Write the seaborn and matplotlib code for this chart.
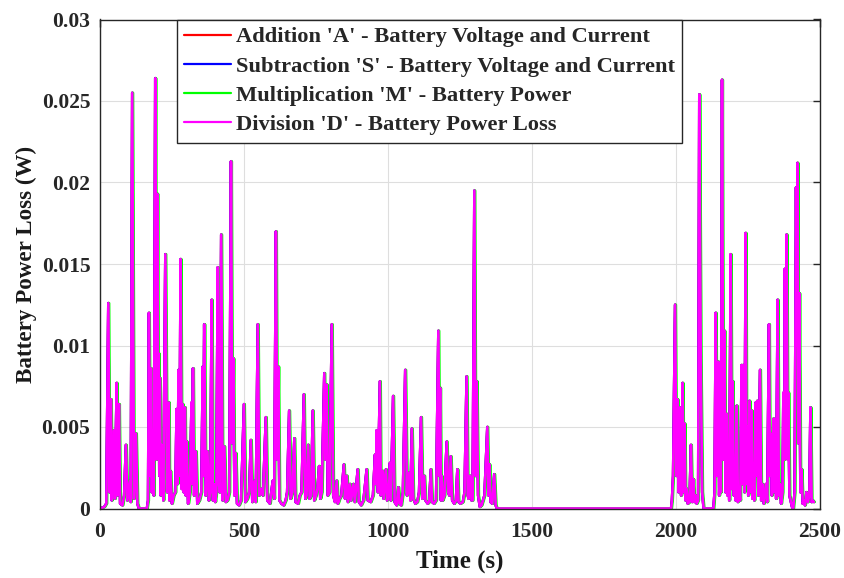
import matplotlib
matplotlib.use("Agg")
import matplotlib.pyplot as plt
import seaborn as sns
import pandas as pd

# ---- data (time in s, battery power loss in W) ----
seg1_time = [0, 15, 22, 29, 33, 38, 41, 44, 46, 49, 52, 58, 61, 66, 70, 78, 84, 90, 95, 104,
             107, 112, 118, 125, 130, 135, 163, 167, 170, 174, 177, 180, 183, 187, 192, 196,
             199, 202, 204, 206, 208, 211, 215, 220, 227, 233, 239, 241, 244, 250, 256, 262,
             266, 269, 273, 276, 280, 284, 287, 291, 295, 298, 301, 306, 312, 318, 320, 323,
             327, 333, 338, 345, 352, 357, 359, 362, 367, 373, 378, 383, 388, 392, 396, 400,
             404, 409, 413, 416, 421, 426, 432, 437, 443, 449, 455, 459, 463, 467, 471, 476,
             483, 490, 500, 505, 512, 518, 524, 529, 537, 541, 548, 553, 560, 566, 576, 581,
             590, 600, 605, 611, 615, 619, 623, 630, 638, 645, 650, 657, 662, 668, 675, 679,
             688, 694, 700, 708, 713, 717, 723, 728, 733, 739, 744, 750, 755, 761, 765, 770,
             779, 783, 787, 791, 797, 805, 810, 816, 822, 826, 832, 838, 847, 851, 857, 861,
             868, 872, 880, 885, 895, 899, 907, 915, 926, 930, 940, 948, 955, 958, 961, 965,
             972, 975, 982, 985, 993, 997, 1003, 1007, 1010, 1018, 1023, 1030, 1036, 1040,
             1046, 1052, 1060, 1066, 1074, 1078, 1083, 1088, 1095, 1102, 1108, 1115, 1120,
             1126, 1130, 1138, 1143, 1149, 1153, 1160, 1167, 1175, 1178, 1181, 1184, 1186,
             1190, 1196, 1204, 1209, 1213, 1218, 1223, 1230, 1236, 1241, 1245, 1252, 1260,
             1266, 1273, 1277, 1280, 1285, 1290, 1294, 1300, 1304, 1308, 1313, 1319, 1325,
             1335, 1345, 1349, 1352, 1356, 1362, 1369, 1374, 1378]
seg1_loss = [0, 0.0001, 0.0003, 0.0126, 0.0010, 0.0067, 0.0005, 0.0044, 0.0010, 0.0048, 0.0006,
             0.0077, 0.0008, 0.0064, 0.0003, 0.0002, 0.0008, 0.0039, 0.0005, 0.0017, 0.0004,
             0.0255, 0.0006, 0.0046, 0.0003, 0.0, 0.0, 0.0005, 0.0120, 0.0020, 0.0086, 0.0010,
             0.0048, 0.0008, 0.0264, 0.0030, 0.0193, 0.0040, 0.0095, 0.0020, 0.0080, 0.0008,
             0.0039, 0.0005, 0.0156, 0.0010, 0.0065, 0.0005, 0.0023, 0.0003, 0.0008, 0.0010,
             0.0061, 0.0015, 0.0085, 0.0020, 0.0153, 0.0012, 0.0064, 0.0010, 0.0062, 0.0008,
             0.0041, 0.0003, 0.0010, 0.0065, 0.0015, 0.0086, 0.0008, 0.0035, 0.0003, 0.0005,
             0.0010, 0.0087, 0.0020, 0.0113, 0.0008, 0.0035, 0.0005, 0.0010, 0.0128, 0.0005,
             0.0015, 0.0004, 0.0010, 0.0148, 0.0015, 0.0010, 0.0168, 0.0005, 0.0038, 0.0004,
             0.0005, 0.0010, 0.0213, 0.0040, 0.0092, 0.0008, 0.0034, 0.0003, 0.0002, 0.0005,
             0.0064, 0.0004, 0.0006, 0.0010, 0.0042, 0.0004, 0.0017, 0.0004, 0.0113, 0.0008,
             0.0012, 0.0008, 0.0056, 0.0005, 0.0003, 0.0017, 0.0006, 0.0170, 0.0030, 0.0087,
             0.0005, 0.0003, 0.0002, 0.0005, 0.0010, 0.0060, 0.0006, 0.0010, 0.0043, 0.0004,
             0.0003, 0.0008, 0.0010, 0.0070, 0.0006, 0.0008, 0.0039, 0.0006, 0.0008, 0.0060,
             0.0005, 0.0008, 0.0012, 0.0026, 0.0006, 0.0010, 0.0083, 0.0030, 0.0076, 0.0008,
             0.0010, 0.0113, 0.0008, 0.0004, 0.0017, 0.0003, 0.0006, 0.0008, 0.0027, 0.0006,
             0.0020, 0.0004, 0.0015, 0.0005, 0.0015, 0.0004, 0.0024, 0.0004, 0.0002, 0.0005,
             0.0024, 0.0005, 0.0004, 0.0008, 0.0033, 0.0015, 0.0048, 0.0010, 0.0078, 0.0008,
             0.0023, 0.0006, 0.0024, 0.0005, 0.0010, 0.0028, 0.0005, 0.0069, 0.0004, 0.0002,
             0.0013, 0.0003, 0.0002, 0.0010, 0.0085, 0.0008, 0.0022, 0.0005, 0.0049, 0.0006,
             0.0003, 0.0004, 0.0010, 0.0056, 0.0006, 0.0020, 0.0005, 0.0003, 0.0004, 0.0024,
             0.0004, 0.0003, 0.0005, 0.0109, 0.0020, 0.0074, 0.0005, 0.0020, 0.0005, 0.0008,
             0.0041, 0.0010, 0.0008, 0.0032, 0.0005, 0.0003, 0.0005, 0.0024, 0.0004, 0.0003,
             0.0004, 0.0010, 0.0081, 0.0008, 0.0006, 0.0020, 0.0005, 0.0005, 0.0195, 0.0020,
             0.0078, 0.0008, 0.0001, 0.0002, 0.0008, 0.0050, 0.0008, 0.0027, 0.0004, 0.0003,
             0.0021, 0.0002, 0.0]

seg2_time = [1983]          # idle stretch (loss stays at zero)
seg2_loss = [0.0]

seg3_time = [1986, 1990, 1997, 2001, 2005, 2009, 2014, 2018, 2023, 2027, 2030, 2033, 2037,
             2041, 2047, 2052, 2056, 2060, 2064, 2068, 2072, 2077, 2081, 2086, 2091, 2096,
             2130, 2134, 2138, 2142, 2147, 2150, 2152, 2156, 2160, 2164, 2168, 2172, 2176,
             2179, 2181, 2185, 2190, 2194, 2197, 2201, 2204, 2207, 2211, 2215, 2218, 2223,
             2228, 2231, 2234, 2238, 2242, 2245, 2248, 2251, 2255, 2259, 2263, 2266, 2268,
             2272, 2277, 2280, 2282, 2286, 2292, 2296, 2300, 2305, 2312, 2317, 2323, 2326,
             2329, 2333, 2338, 2341, 2344, 2348, 2353, 2357, 2361, 2365, 2370, 2373, 2376,
             2378, 2381, 2384, 2388, 2390, 2394, 2398, 2403, 2407, 2412, 2417, 2420, 2422,
             2425, 2428, 2432, 2436, 2440, 2444, 2448, 2453, 2458, 2463, 2467, 2471, 2474,
             2479]
seg3_loss = [0.0005, 0.0020, 0.0125, 0.0020, 0.0067, 0.0010, 0.0062, 0.0008, 0.0077, 0.0010,
             0.0052, 0.0005, 0.0012, 0.0003, 0.0004, 0.0039, 0.0004, 0.0018, 0.0004, 0.0008,
             0.0003, 0.0005, 0.0254, 0.0090, 0.0010, 0.0, 0.0, 0.0010, 0.0120, 0.0020, 0.0090,
             0.0008, 0.0025, 0.0010, 0.0263, 0.0030, 0.0109, 0.0010, 0.0058, 0.0008, 0.0035,
             0.0005, 0.0156, 0.0012, 0.0078, 0.0008, 0.0025, 0.0005, 0.0063, 0.0004, 0.0012,
             0.0005, 0.0088, 0.0015, 0.0088, 0.0010, 0.0169, 0.0015, 0.0050, 0.0008, 0.0066,
             0.0010, 0.0060, 0.0006, 0.0022, 0.0005, 0.0065, 0.0020, 0.0066, 0.0008, 0.0085,
             0.0005, 0.0015, 0.0003, 0.0015, 0.0004, 0.0113, 0.0020, 0.0046, 0.0008, 0.0055,
             0.0010, 0.0055, 0.0006, 0.0128, 0.0008, 0.0015, 0.0003, 0.0010, 0.0071, 0.0030,
             0.0147, 0.0040, 0.0168, 0.0030, 0.0071, 0.0008, 0.0005, 0.0001, 0.0, 0.0010,
             0.0197, 0.0100, 0.0212, 0.0040, 0.0132, 0.0010, 0.0024, 0.0003, 0.0005, 0.0002,
             0.0010, 0.0004, 0.0008, 0.0062, 0.0004, 0.0005, 0.0004]

series_names = ["Addition 'A' - Battery Voltage and Current",
                "Subtraction 'S' - Battery Voltage and Current",
                "Multiplication 'M' - Battery Power",
                "Division 'D' - Battery Power Loss"]
series_lag_s = [0.0, 0.0, 2.5, 0.0]     # green trace lags slightly behind the others
series_colors = ["#ff0000", "#0000ff", "#00ff00", "#ff00ff"]

x_ticks = [0, 500, 1000, 1500, 2000, 2500]
y_ticks = [0, 0.005, 0.01, 0.015, 0.02, 0.025, 0.03]
y_tick_labels = ["0", "0.005", "0.01", "0.015", "0.02", "0.025", "0.03"]

# ---- build long table ----
time_s = seg1_time + seg2_time + seg3_time
loss_w = seg1_loss + seg2_loss + seg3_loss
frames = []
for name, lag in zip(series_names, series_lag_s):
    frames.append(pd.DataFrame({"Time": [t + lag for t in time_s],
                                "Loss": loss_w, "Series": name}))
df = pd.concat(frames, ignore_index=True)

sns.set_theme(style="white")
plt.rcParams["font.family"] = ["Liberation Serif", "DejaVu Serif"]
plt.rcParams["font.weight"] = "bold"

fig = plt.figure(figsize=(8.45, 5.78), dpi=100)
ax = fig.add_axes([100 / 845, 1 - 508.5 / 578, 720 / 845, 489 / 578])

sns.lineplot(data=df, x="Time", y="Loss", hue="Series", hue_order=series_names,
             palette=series_colors, estimator=None, sort=False, linewidth=1.9, ax=ax,
             legend=True)

ax.set_xlim(0, 2500)
ax.set_ylim(0, 0.03)
ax.set_xticks(x_ticks)
ax.set_xticklabels([str(v) for v in x_ticks])
ax.set_yticks(y_ticks)
ax.set_yticklabels(y_tick_labels)
ax.grid(True, color="#dedede", linewidth=0.8)
ax.set_axisbelow(True)
ax.tick_params(direction="in", length=5, width=1, colors="#262626", labelsize=15.5,
               top=True, right=True, pad=7)
ax.tick_params(axis="x", pad=10)
for lab in ax.get_xticklabels() + ax.get_yticklabels():
    lab.set_fontweight("bold")
for sp in ax.spines.values():
    sp.set_color("#262626")
    sp.set_linewidth(1.0)

ax.set_xlabel("Time (s)", fontsize=18, fontweight="bold", color="#1a1a1a", labelpad=5)
ax.set_ylabel("Battery Power Loss (W)", fontsize=16.6, fontweight="bold", color="#1a1a1a",
              labelpad=3)

handles, labels = ax.get_legend_handles_labels()
for h in handles:
    h.set_linewidth(1.6)
leg = ax.legend(handles, labels, loc="upper left", bbox_to_anchor=(77 / 720, 1.0),
                frameon=True, fancybox=False, framealpha=1, edgecolor="#262626",
                prop={"family": "Liberation Serif", "weight": "bold", "size": 16.2},
                handlelength=2.1, handletextpad=0.2, labelspacing=0.38,
                borderpad=0.32, borderaxespad=0)
leg.get_frame().set_linewidth(1.0)

fig.savefig("out.png", dpi=100)
